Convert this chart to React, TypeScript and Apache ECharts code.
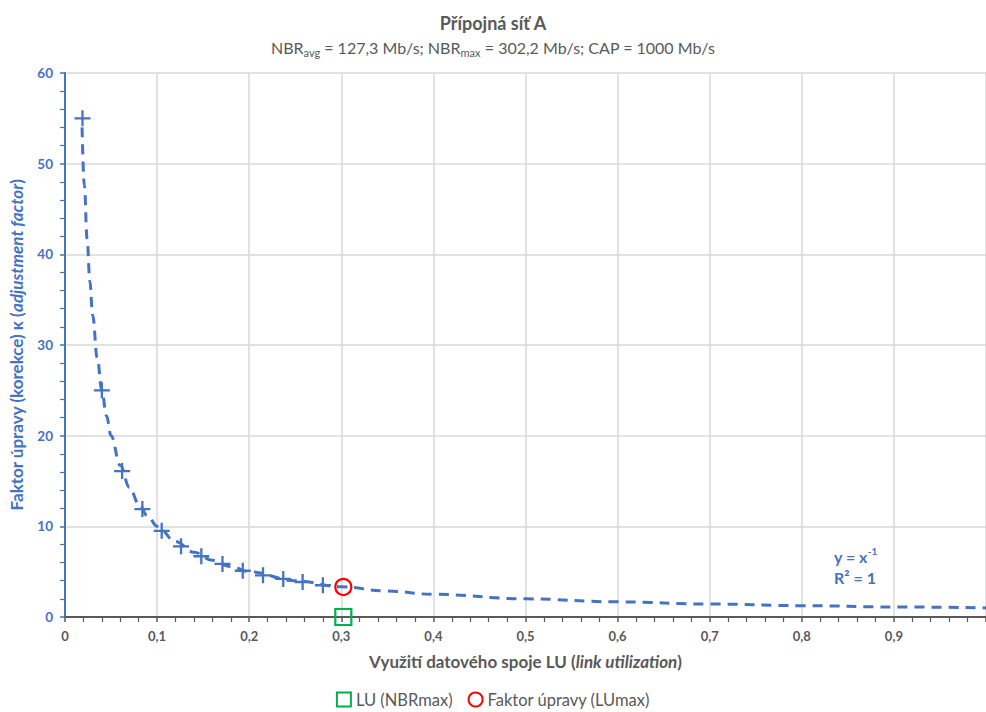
import React, { useEffect, useRef } from "react";
import * as echarts from "echarts";

// Measured link utilisation (LU) and the matching adjustment factor κ
const LU = [0.019, 0.04, 0.062, 0.084, 0.105, 0.126, 0.148, 0.171, 0.193, 0.215, 0.237, 0.258, 0.28];
const KAPPA = [55, 25, 16.1, 11.9, 9.5, 7.8, 6.7, 5.85, 5.1, 4.6, 4.2, 3.86, 3.5];

// Point at maximal normalised bitrate
const LU_NBRMAX = 0.3022;
const KAPPA_LUMAX = 3.31;

// Power trend line y = x^-1
const TREND_LU = [0.0185, 0.021, 0.024, 0.027, 0.03, 0.035, 0.04, 0.045, 0.05, 0.06, 0.07, 0.08, 0.09, 0.1, 0.12, 0.14, 0.16, 0.18, 0.2, 0.25, 0.3, 0.35, 0.4, 0.5, 0.6, 0.7, 0.8, 0.9, 1.0];
const TREND_KAPPA = [54, 47.6, 41.7, 37, 33.3, 28.6, 25, 22.2, 20, 16.7, 14.3, 12.5, 11.1, 10, 8.33, 7.14, 6.25, 5.56, 5, 4, 3.33, 2.86, 2.5, 2, 1.67, 1.43, 1.25, 1.11, 1];

const X_MIN = 0;
const X_MAX = 1;
const X_STEP = 0.1;
const Y_MIN = 0;
const Y_MAX = 60;
const Y_STEP = 10;

const BLUE = "#4472C4";
const GREY = "#595959";
const GREEN = "#00B050";
const RED = "#FF0000";
const FONT = "Lato, 'Open Sans', sans-serif";

const PLUS = "path://M6,0H8V14H6ZM0,6H14V8H0Z";

export default function App() {
  const ref = useRef<HTMLDivElement>(null);

  useEffect(() => {
    if (!ref.current) return;
    const chart = echarts.init(ref.current, undefined, { renderer: "svg" });

    const option: any = {
      animation: false,
      textStyle: { fontFamily: FONT },
      title: [
        {
          text: "Přípojná síť A",
          left: "center",
          top: 9,
          textStyle: { fontFamily: FONT, fontSize: 18, fontWeight: "bold", color: GREY },
        },
        {
          text: "{t|NBR}{s|avg}{t| = 127,3 Mb/s; NBR}{s|max}{t| = 302,2 Mb/s; CAP = 1000 Mb/s}",
          left: "center",
          top: 32,
          textStyle: {
            fontFamily: FONT,
            fontSize: 16,
            fontWeight: "normal",
            color: GREY,
            rich: {
              t: { fontFamily: FONT, fontSize: 16, fontWeight: "normal", color: GREY, lineHeight: 21 },
              s: { fontFamily: FONT, fontSize: 11, fontWeight: "normal", color: GREY, lineHeight: 10, verticalAlign: "bottom" },
            },
          },
        },
      ],
      legend: {
        data: ["LU (NBRmax)", "Faktor úpravy (LUmax)"],
        top: 686,
        left: "center",
        itemWidth: 14,
        itemHeight: 14,
        itemGap: 15,
        selectedMode: false,
        textStyle: { fontFamily: FONT, fontSize: 16.5, lineHeight: 17, color: GREY },
      },
      grid: { left: 64, right: -4, top: 73, bottom: 95, containLabel: false },
      xAxis: {
        type: "value",
        min: X_MIN,
        max: X_MAX,
        interval: X_STEP,
        name: "{b|Využití datového spoje LU (}{i|link utilization}{b|)}",
        nameLocation: "middle",
        nameGap: 36,
        nameTextStyle: {
          rich: {
            b: { fontFamily: FONT, fontSize: 17, fontWeight: "bold", color: GREY },
            i: { fontFamily: FONT, fontSize: 17, fontWeight: "bold", fontStyle: "italic", color: GREY },
          },
        },
        axisLine: { show: true, onZero: false, lineStyle: { color: GREY, width: 2 } },
        axisTick: { show: true, length: 5, lineStyle: { color: GREY, width: 1.5 } },
        minorTick: { show: true, splitNumber: 5, length: 5, lineStyle: { color: GREY, width: 1.2 } },
        splitLine: { show: true, lineStyle: { color: "#D9D9D9", width: 1.5 } },
        axisLabel: {
          margin: 12,
          showMaxLabel: false,
          fontFamily: FONT,
          fontSize: 13,
          fontWeight: "bold",
          color: GREY,
          formatter: (v: number) => (v === 0 ? "0" : v.toFixed(1).replace(".", ",")),
        },
      },
      yAxis: {
        type: "value",
        min: Y_MIN,
        max: Y_MAX,
        interval: Y_STEP,
        name: "{b|Faktor úpravy (korekce) κ (}{i|adjustment factor}{b|)}",
        nameLocation: "middle",
        nameGap: 40,
        nameRotate: 90,
        nameTextStyle: {
          rich: {
            b: { fontFamily: FONT, fontSize: 17, fontWeight: "bold", color: BLUE },
            i: { fontFamily: FONT, fontSize: 17, fontWeight: "bold", fontStyle: "italic", color: BLUE },
          },
        },
        axisLine: { show: true, lineStyle: { color: BLUE, width: 2 } },
        axisTick: { show: true, length: 5, lineStyle: { color: BLUE, width: 1.5 } },
        minorTick: { show: true, splitNumber: 5, length: 5, lineStyle: { color: BLUE, width: 1.2 } },
        splitLine: { show: true, lineStyle: { color: "#D9D9D9", width: 1.5 } },
        axisLabel: {
          margin: 12,
          fontFamily: FONT,
          fontSize: 13.5,
          fontWeight: "bold",
          color: BLUE,
        },
      },
      graphic: [
        {
          type: "text",
          left: 834,
          top: 546,
          silent: true,
          style: {
            text: "{m|y = x}{p|-1}",
            rich: {
              m: { fontFamily: FONT, fontSize: 16, fontWeight: "bold", fill: BLUE, lineHeight: 20 },
              p: { fontFamily: FONT, fontSize: 10, fontWeight: "bold", fill: BLUE, lineHeight: 10, verticalAlign: "top" },
            },
          },
        },
        {
          type: "text",
          left: 834,
          top: 569,
          silent: true,
          style: {
            text: "R² = 1",
            fontFamily: FONT,
            fontSize: 16,
            fontWeight: "bold",
            fill: BLUE,
          },
        },
      ],
      series: [
        {
          name: "Trend",
          type: "line",
          data: TREND_LU.map((x, i) => [x, TREND_KAPPA[i]]),
          showSymbol: false,
          symbol: "none",
          smooth: 0.4,
          smoothMonotone: "x",
          silent: true,
          z: 2,
          lineStyle: { color: BLUE, width: 3, type: [10, 7] },
        },
        {
          name: "κ",
          type: "scatter",
          data: LU.map((x, i) => [x, KAPPA[i]]),
          symbol: PLUS,
          symbolSize: 16,
          silent: true,
          z: 3,
          itemStyle: { color: BLUE, opacity: 1 },
        },
        {
          name: "LU (NBRmax)",
          type: "scatter",
          data: [[LU_NBRMAX, 0]],
          symbol: "rect",
          symbolSize: 16,
          clip: false,
          silent: true,
          z: 4,
          itemStyle: { color: "rgba(255,255,255,0)", borderColor: GREEN, borderWidth: 2.2, opacity: 1 },
        },
        {
          name: "Faktor úpravy (LUmax)",
          type: "scatter",
          data: [[LU_NBRMAX, KAPPA_LUMAX]],
          symbol: "circle",
          symbolSize: 16,
          clip: false,
          silent: true,
          z: 4,
          itemStyle: { color: "rgba(255,255,255,0)", borderColor: RED, borderWidth: 2.2, opacity: 1 },
        },
      ],
    };

    chart.setOption(option);
    return () => chart.dispose();
  }, []);

  return (
    <div
      ref={ref}
      style={{ position: "absolute", left: 0, top: 0, width: 986, height: 712, background: "#fff" }}
    />
  );
}
